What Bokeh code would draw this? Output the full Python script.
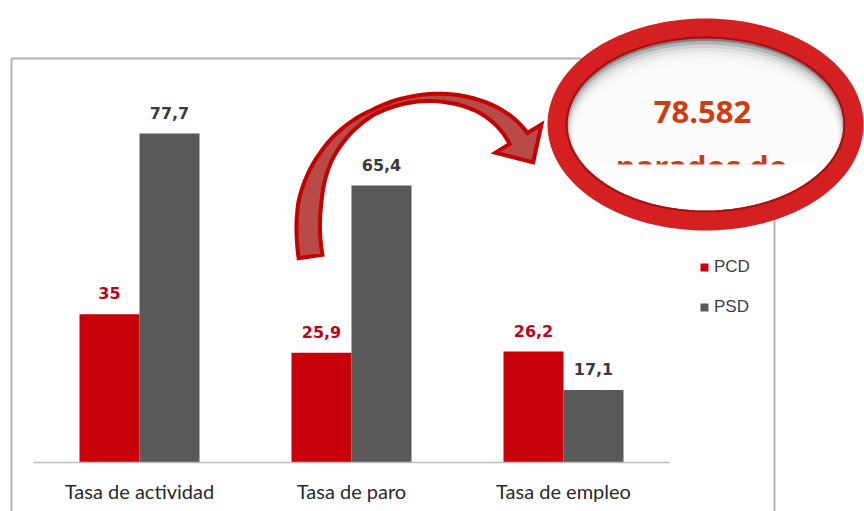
import math
from bokeh.plotting import figure
from bokeh.models import (ColumnDataSource, Range1d, FixedTicker, PolyAnnotation,
                          Label, Legend, LegendItem)
from bokeh.transform import dodge
from bokeh.core.properties import value
from bokeh.embed import file_html
from bokeh.resources import INLINE

# ---------------- data ----------------
categories = ["Tasa de actividad", "Tasa de paro", "Tasa de empleo"]
series = ["PCD", "PSD"]
pcd_values = [35, 25.9, 26.2]
psd_values = [77.7, 65.4, 17.1]
callout_lines = ["78.582", "parados de"]


def fmt(v):
    return f"{v:g}".replace(".", ",")


# ---------------- layout ----------------
RED = "#c8000a"
GREY = "#595959"
W, H = 864, 511
BASE_PX = 462           # canvas y of the value 0
CAT_PX = 212.0          # pixels per category
UNIT_PX = 4.234         # pixels per percentage point
X0_PX = 139.0           # canvas x of centre of first category
OFF = 0.1415            # half bar offset (category units)
BW = 0.283              # bar width (category units)

x_range = Range1d(-X0_PX / CAT_PX, (W - X0_PX) / CAT_PX)
y_range = Range1d(-(H - BASE_PX) / UNIT_PX, BASE_PX / UNIT_PX)


def dx(px):  # canvas pixel -> data x (decorations only)
    return (px - X0_PX) / CAT_PX


def dy(py):  # canvas pixel -> data y (decorations only)
    return (BASE_PX - py) / UNIT_PX


idx = list(range(len(categories)))
src = ColumnDataSource(dict(
    x=idx, pcd=pcd_values, psd=psd_values,
    pcd_lbl=[fmt(v) for v in pcd_values],
    psd_lbl=[fmt(v) for v in psd_values]))

p = figure(width=W, height=H, x_range=x_range, y_range=y_range,
           output_backend="svg", toolbar_location=None, y_axis_location=None,
           min_border_left=0, min_border_right=0, min_border_top=0,
           min_border_bottom=0, outline_line_color=None,
           background_fill_color="white", border_fill_color="white")
p.grid.visible = False

# chart frame
box = PolyAnnotation(xs=[dx(11), dx(774), dx(774), dx(11)],
                     ys=[dy(58), dy(58), dy(560), dy(560)],
                     fill_alpha=0, line_color="#b4b4b4", line_alpha=1, line_width=2)
p.add_layout(box)

# bars
r1 = p.vbar(x=dodge("x", -OFF), top="pcd", bottom=0, width=BW, source=src,
            fill_color=RED, line_color=None)
r2 = p.vbar(x=dodge("x", OFF), top="psd", bottom=0, width=BW, source=src,
            fill_color=GREY, line_color=None)

# value labels
p.text(x=dodge("x", -OFF), y="pcd", text="pcd_lbl", source=src, y_offset=-21,
       text_align="center", text_baseline="middle",
       text_font=value("DejaVu Sans"), text_font_style="bold",
       text_font_size="16px", text_color="#c0001c")
p.text(x=dodge("x", OFF), y="psd", text="psd_lbl", source=src, y_offset=-21,
       text_align="center", text_baseline="middle",
       text_font=value("DejaVu Sans"), text_font_style="bold",
       text_font_size="16px", text_color="#3a3a3a")

# category axis, drawn at value 0 inside the frame
ax = p.xaxis[0]
ax.fixed_location = 0
ax.ticker = FixedTicker(ticks=idx)
ax.major_label_overrides = {i: c for i, c in enumerate(categories)}
ax.bounds = (-0.5, len(categories) - 0.5)
ax.axis_line_color = "#bdbdbd"
ax.axis_line_width = 1.5
ax.major_tick_line_color = None
ax.minor_tick_line_color = None
ax.major_tick_out = 0
ax.major_tick_in = 0
ax.major_label_standoff = 16
ax.major_label_text_font = "Lato"
ax.major_label_text_font_size = "20px"
ax.major_label_text_color = "#2a2a2a"

# legend
legend = Legend(items=[LegendItem(label=series[0], renderers=[r1]),
                       LegendItem(label=series[1], renderers=[r2])],
                location=(699, 145 + H - BASE_PX), glyph_width=10, glyph_height=10,
                label_text_font="Liberation Sans", label_text_font_size="17px",
                label_text_color="#404040", label_standoff=5, spacing=20,
                padding=0, margin=0, border_line_color=None,
                background_fill_alpha=0, label_height=10)
p.add_layout(legend)

# ---------------- curved arrow ----------------
P = [(310, 256), (285, 90), (470, 60), (518, 138)]
HW = [(0.0, 12), (0.12, 11.5), (0.25, 7), (0.45, 2.5), (0.6, 3), (0.8, 5.5), (1.0, 10.5)]


def bez(t):
    a, b, c, d = (1 - t) ** 3, 3 * (1 - t) ** 2 * t, 3 * (1 - t) * t ** 2, t ** 3
    return (a * P[0][0] + b * P[1][0] + c * P[2][0] + d * P[3][0],
            a * P[0][1] + b * P[1][1] + c * P[2][1] + d * P[3][1])


def bez_d(t):
    a, b, c = 3 * (1 - t) ** 2, 6 * (1 - t) * t, 3 * t ** 2
    x = a * (P[1][0] - P[0][0]) + b * (P[2][0] - P[1][0]) + c * (P[3][0] - P[2][0])
    y = a * (P[1][1] - P[0][1]) + b * (P[2][1] - P[1][1]) + c * (P[3][1] - P[2][1])
    n = math.hypot(x, y)
    return x / n, y / n


def half_w(t):
    for (t0, w0), (t1, w1) in zip(HW[:-1], HW[1:]):
        if t0 <= t <= t1:
            return w0 + (w1 - w0) * (t - t0) / (t1 - t0)
    return HW[-1][1]


outer, inner = [], []
N = 60
for k in range(N + 1):
    t = k / N
    cx, cy = bez(t)
    tx, ty = bez_d(t)
    nx, ny = ty, -tx
    w = half_w(t)
    outer.append((cx + w * nx, cy + w * ny))
    inner.append((cx - w * nx, cy - w * ny))
ex, ey = bez(1.0)
tx, ty = bez_d(1.0)
nx, ny = ty, -tx
head = [(ex + 27 * nx, ey + 27 * ny), (ex + 28 * tx, ey + 28 * ty), (ex - 27 * nx, ey - 27 * ny)]
arrow_pts = outer + head + inner[::-1]
arrow = PolyAnnotation(xs=[dx(a) for a, _ in arrow_pts], ys=[dy(b) for _, b in arrow_pts],
                       fill_color="#b84a48", fill_alpha=1, line_color="#c40000",
                       line_alpha=1, line_width=4, line_join="miter")
p.add_layout(arrow)

# ---------------- callout ellipse ----------------
ECX, ECY, EA, EB = 705, 124, 148, 96


def ellipse(cx, cy, a, b, t0=0.0, t1=2 * math.pi, n=160):
    pts = [(cx + a * math.cos(t0 + (t1 - t0) * k / n),
            cy + b * math.sin(t0 + (t1 - t0) * k / n)) for k in range(n + 1)]
    return [dx(x) for x, _ in pts], [dy(y) for _, y in pts]


IA, IB = EA - 9, EB - 9
xs, ys = ellipse(ECX, ECY, IA, IB)
p.add_layout(PolyAnnotation(xs=xs, ys=ys, fill_color="#808080", fill_alpha=1, line_alpha=0))
for k in range(1, 9):
    d = 3.5 * k
    xs, ys = ellipse(ECX, ECY + d / 2, IA - 0.3 * d, IB - d / 2)
    p.add_layout(PolyAnnotation(xs=xs, ys=ys, fill_color="white", fill_alpha=0.4, line_alpha=0))

p.add_layout(Label(x=dx(702), y=dy(111), text=callout_lines[0], text_align="center",
                   text_baseline="middle", text_font="Open Sans", text_font_style="bold",
                   text_font_size="31px", text_color="#d03c10"))
p.add_layout(Label(x=dx(701), y=dy(165), text=callout_lines[1], text_align="center",
                   text_baseline="alphabetic", text_font="Open Sans", text_font_style="bold",
                   text_font_size="31px", text_color="#d03c10"))

# white cap that cuts the second line
CUT = 164
s = (CUT - ECY) / IB
t0 = math.asin(s)
xs, ys = ellipse(ECX, ECY, IA, IB, t0, math.pi - t0, 80)
p.add_layout(PolyAnnotation(xs=xs, ys=ys, fill_color="white", fill_alpha=1, line_alpha=0))

# red ring
xs, ys = ellipse(ECX, ECY, EA, EB)
p.add_layout(PolyAnnotation(xs=xs, ys=ys, fill_alpha=0, line_color="#d42020",
                            line_alpha=1, line_width=20))
xs, ys = ellipse(ECX, ECY, EA - 9, EB - 9)
p.add_layout(PolyAnnotation(xs=xs, ys=ys, fill_alpha=0, line_color="#a81010",
                            line_alpha=1, line_width=2))

open("out.html", "w").write(file_html(p, INLINE))
